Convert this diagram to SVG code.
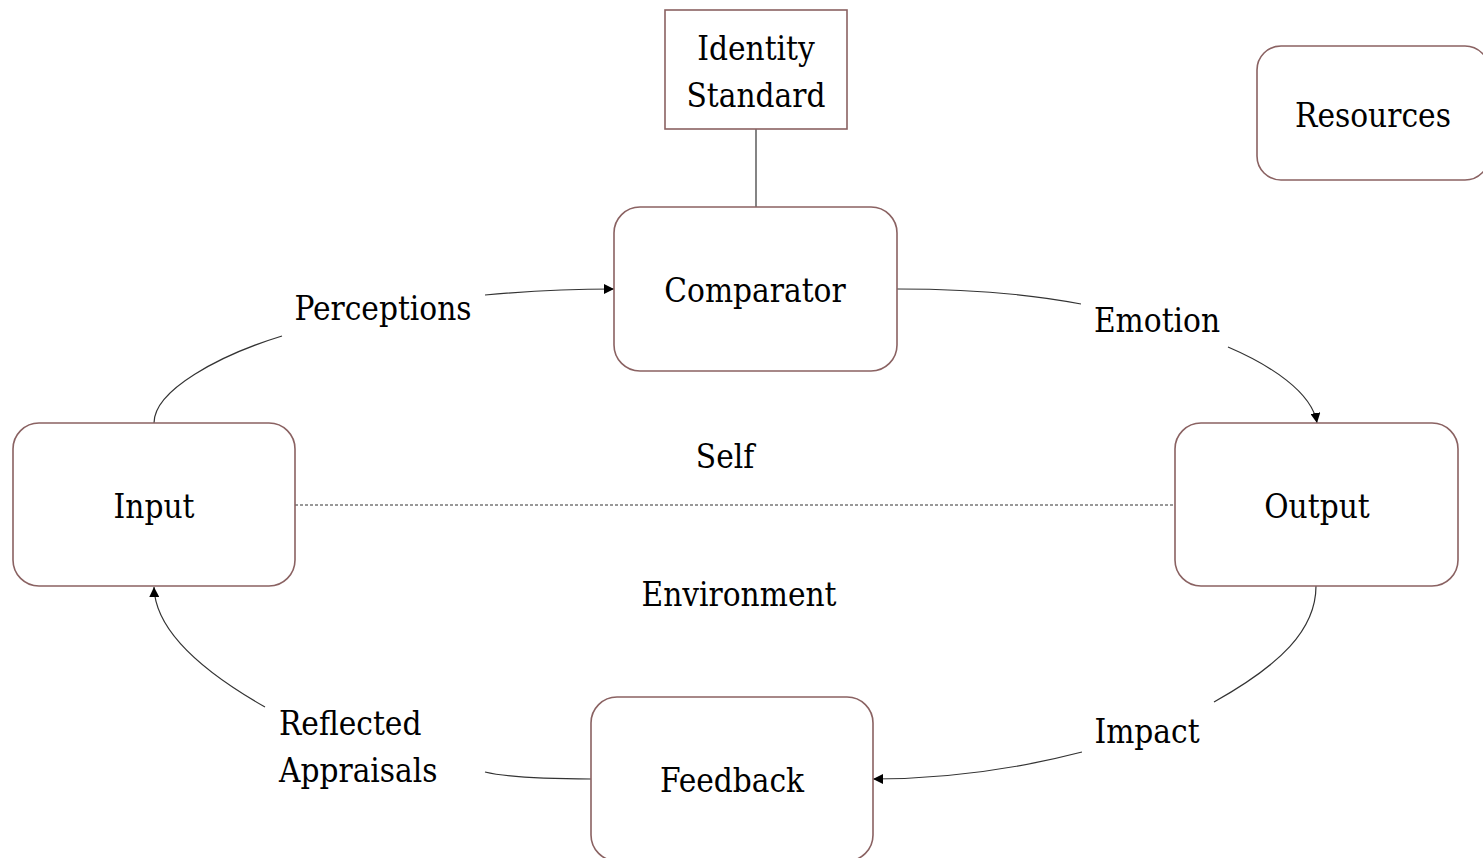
<svg xmlns="http://www.w3.org/2000/svg" width="1483" height="858" viewBox="0 0 1483 858">
<defs>
<marker id="arr" viewBox="0 0 10 10" refX="10" refY="5" markerWidth="10" markerHeight="10" markerUnits="userSpaceOnUse" orient="auto">
<path d="M0,0 L10,5 L0,10 z" fill="#000"/>
</marker>
<style>
.box{fill:#fff;stroke:#8a6262;stroke-width:1.6}
.t{font-family:"DejaVu Serif","Liberation Serif",serif;font-stretch:condensed;font-size:33px;fill:#000;text-anchor:middle}
.c{fill:none;stroke:#333;stroke-width:1.2}
</style>
</defs>
<rect width="1483" height="858" fill="#fff"/>
<g id="connectors">
<line class="c" x1="756" y1="129" x2="756" y2="207"/>
<line x1="295" y1="505" x2="1175" y2="505" stroke="#333" stroke-width="1" stroke-dasharray="3,2"/>
<path class="c" d="M154,423 C154,390 220,355 282,336"/>
<path class="c" d="M485,295 Q550,289 614,289" marker-end="url(#arr)"/>
<path class="c" d="M897,289 C980,289 1040,296 1081,304"/>
<path class="c" d="M1228,347 C1270,365 1312,392 1317,423" marker-end="url(#arr)"/>
<path class="c" d="M1316,586 C1316,630 1280,665 1214,702"/>
<path class="c" d="M1082,752 C1020,768 950,779 873,779" marker-end="url(#arr)"/>
<path class="c" d="M591,779 C550,779 510,778 485,772"/>
<path class="c" d="M265,707 C200,670 155,630 154,587" marker-end="url(#arr)"/>
</g>
<g id="identity-standard">
<rect class="box" x="665" y="10" width="182" height="119"/>
<text class="t" x="756" y="60">Identity</text>
<text class="t" x="756" y="107">Standard</text>
</g>
<g id="resources">
<rect class="box" x="1257" y="46" width="232" height="134" rx="24"/>
<text class="t" x="1373" y="127">Resources</text>
</g>
<g id="comparator">
<rect class="box" x="614" y="207" width="283" height="164" rx="26"/>
<text class="t" x="755" y="302">Comparator</text>
</g>
<g id="input">
<rect class="box" x="13" y="423" width="282" height="163" rx="26"/>
<text class="t" x="154" y="518">Input</text>
</g>
<g id="output">
<rect class="box" x="1175" y="423" width="283" height="163" rx="26"/>
<text class="t" x="1317" y="518">Output</text>
</g>
<g id="feedback">
<rect class="box" x="591" y="697" width="282" height="164" rx="26"/>
<text class="t" x="732" y="792">Feedback</text>
</g>
<g id="labels">
<text class="t" x="725" y="468">Self</text>
<text class="t" x="739" y="606">Environment</text>
<text class="t" x="383" y="320">Perceptions</text>
<text class="t" x="1157" y="332">Emotion</text>
<text class="t" x="1147" y="743">Impact</text>
<text class="t" x="279" y="735" style="text-anchor:start">Reflected</text>
<text class="t" x="279" y="782" style="text-anchor:start">Appraisals</text>
</g>
</svg>
